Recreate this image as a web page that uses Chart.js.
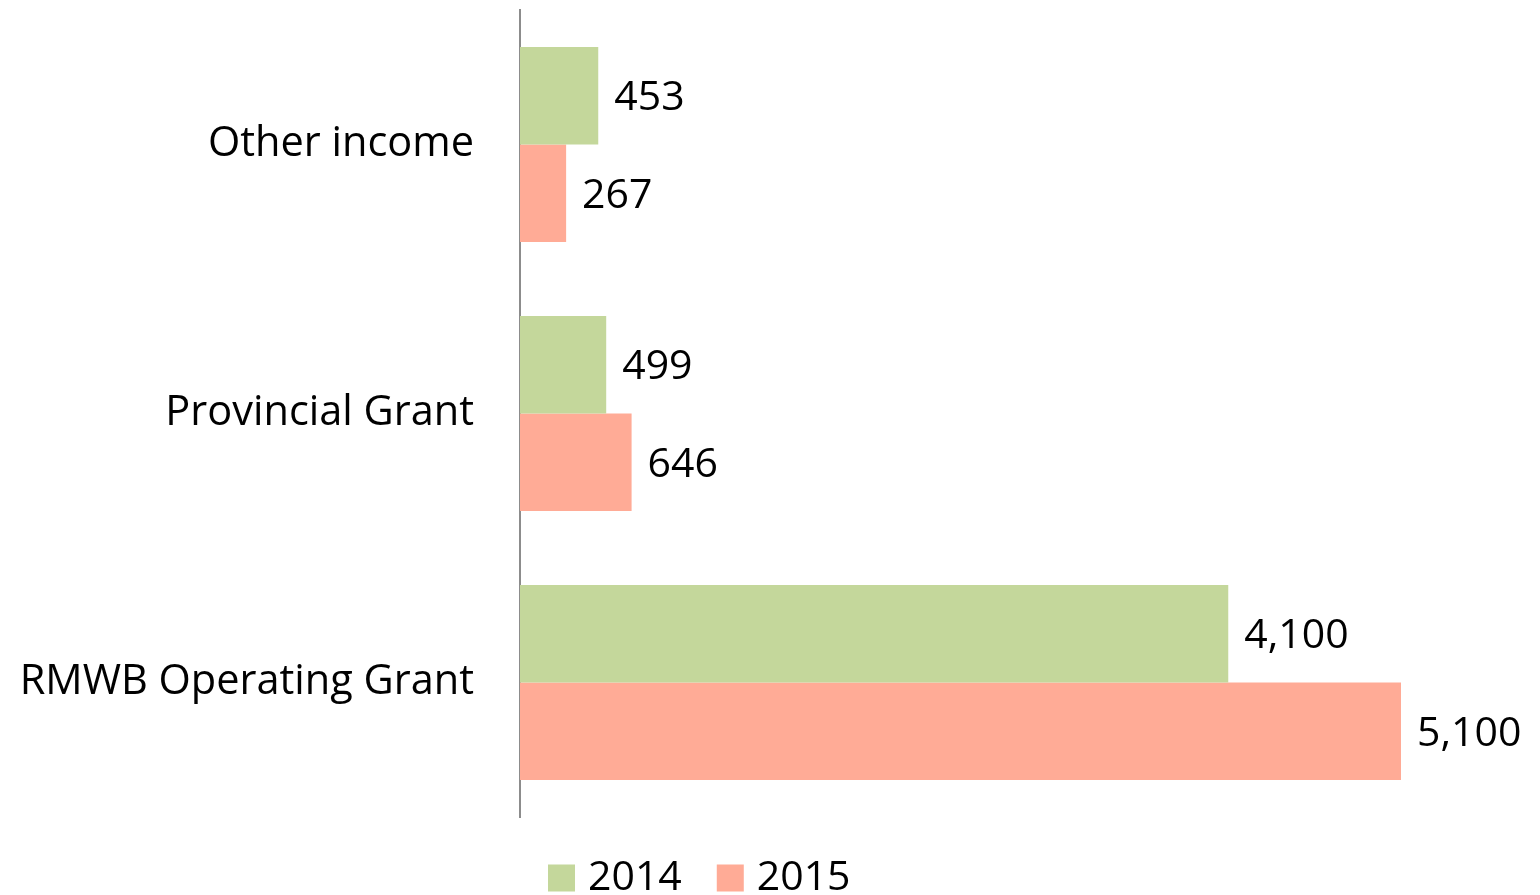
<!DOCTYPE html>
<html>
<head>
<meta charset="utf-8">
<script src="https://cdn.jsdelivr.net/npm/chart.js@4.4.0/dist/chart.umd.min.js"></script>
<style>
html,body{margin:0;padding:0;background:#fff;}
#wrap{width:1540px;height:895px;position:relative;}
</style>
</head>
<body>
<div id="wrap"><canvas id="c" width="1540" height="895"></canvas></div>
<script>
const categories = ["Other income", "Provincial Grant", "RMWB Operating Grant"];
const seriesNames = ["2014", "2015"];
const values2014 = [453, 499, 4100];
const values2015 = [267, 646, 5100];
const colors = ["#C4D79B", "#FFAB96"];

const FONT = "'Open Sans', 'Liberation Sans', sans-serif";

const valueLabels = {
  id: 'valueLabels',
  afterDatasetsDraw(chart) {
    const ctx = chart.ctx;
    ctx.save();
    ctx.font = "41px " + FONT;
    ctx.fillStyle = "#000";
    ctx.textAlign = "left";
    ctx.textBaseline = "middle";
    chart.data.datasets.forEach((ds, di) => {
      chart.getDatasetMeta(di).data.forEach((bar, i) => {
        ctx.fillText(ds.data[i].toLocaleString('en-US'), bar.x + 16, bar.y + 3);
      });
    });
    ctx.restore();
  }
};

const customLegend = {
  id: 'customLegend',
  afterDraw(chart) {
    const ctx = chart.ctx;
    ctx.save();
    ctx.font = "41px " + FONT;
    ctx.textBaseline = "middle";
    ctx.textAlign = "left";
    let x = 548;
    const yc = 878;
    chart.data.datasets.forEach((ds, di) => {
      ctx.fillStyle = ds.backgroundColor;
      ctx.fillRect(x, yc - 13.5, 27, 27);
      ctx.fillStyle = "#000";
      ctx.fillText(ds.label, x + 40, yc);
      x += 40 + ctx.measureText(ds.label).width + 35;
    });
    ctx.restore();
  }
};

new Chart(document.getElementById('c'), {
  type: 'bar',
  data: {
    labels: categories,
    datasets: [
      { label: seriesNames[0], data: values2014, backgroundColor: colors[0], borderWidth: 0 },
      { label: seriesNames[1], data: values2015, backgroundColor: colors[1], borderWidth: 0 }
    ]
  },
  options: {
    indexAxis: 'y',
    responsive: false,
    animation: false,
    layout: { padding: { top: 10, right: 139, bottom: 78, left: 0 } },
    datasets: { bar: { categoryPercentage: 0.725, barPercentage: 1.0 } },
    plugins: { legend: { display: false }, tooltip: { enabled: false } },
    scales: {
      x: { display: false, min: 0, max: 5100 },
      y: {
        grid: { display: false, drawTicks: false },
        border: { display: true, color: '#8c8c8c', width: 2 },
        ticks: { color: '#000', font: { size: 41.5, family: FONT }, padding: 46 },
        afterFit(scale) { scale.width = 520; scale.paddingTop = 0; scale.paddingBottom = 0; }
      }
    }
  },
  plugins: [valueLabels, customLegend]
});
</script>
</body>
</html>
